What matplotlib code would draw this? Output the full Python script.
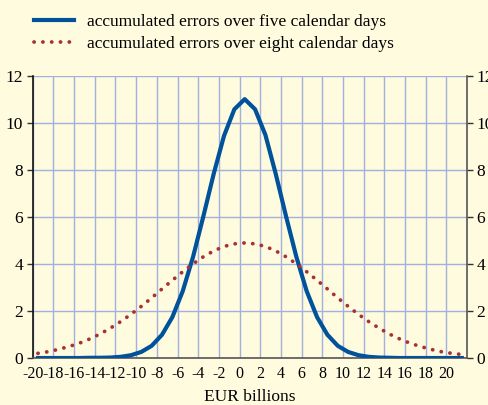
import numpy as np
import matplotlib
matplotlib.use('Agg')
import matplotlib.pyplot as plt

plt.rcParams['font.family'] = ['Liberation Serif', 'DejaVu Serif']

# x positions (EUR billions), midpoints of 1-billion bins
x = np.arange(-19.5, 22.0, 1.0)

five_days = [0.0, 0.0, 0.0, 0.0, 0.0, 0.01, 0.01, 0.02, 0.05, 0.12,
             0.26, 0.52, 0.99, 1.74, 2.84, 4.30, 6.03, 7.84, 9.46, 10.59,
             11.02, 10.59, 9.50, 7.84, 6.03, 4.30, 2.84, 1.74, 0.99, 0.52,
             0.26, 0.12, 0.05, 0.02, 0.01, 0.0, 0.0, 0.0, 0.0, 0.0,
             0.0, 0.0]

eight_days = [0.20, 0.27, 0.37, 0.49, 0.63, 0.81, 1.02, 1.27, 1.55, 1.86,
              2.20, 2.56, 2.94, 3.31, 3.67, 4.01, 4.31, 4.56, 4.75, 4.86,
              4.90, 4.86, 4.75, 4.56, 4.31, 4.01, 3.67, 3.31, 2.94, 2.56,
              2.20, 1.86, 1.55, 1.27, 1.02, 0.81, 0.63, 0.49, 0.37, 0.27,
              0.20, 0.15]

xticks = list(range(-20, 21, 2))
yticks = list(range(0, 13, 2))

bg = '#fefbdf'
fig = plt.figure(figsize=(4.89, 4.05), dpi=100, facecolor=bg)
ax = fig.add_axes([0.067, 0.116, 0.888, 0.696], facecolor=bg)

ax.plot(x, five_days, color='#00529b', linewidth=3.0,
        label='accumulated errors over five calendar days', zorder=3)
ax.plot(x, eight_days, color='#a83232', linewidth=2.7,
        linestyle=(0, (0.05, 2.3)), dash_capstyle='round',
        label='accumulated errors over eight calendar days', zorder=4)

ax.set_xlim(-20, 22)
ax.set_ylim(0, 12)
ax.set_xticks(xticks)
ax.set_xticklabels([str(t) for t in xticks], fontsize=11.5)
ax.set_yticks(yticks)
ax.tick_params(axis='y', labelsize=12.5, length=4, width=1, color='#333333',
               right=True, labelright=True, pad=3)
ax.tick_params(axis='x', length=0, pad=6)
ax.grid(True, color='#a2b0de', linewidth=1.0, zorder=0)
ax.set_axisbelow(True)

ax.spines['top'].set_visible(False)
ax.spines['left'].set_color('#111111')
ax.spines['right'].set_color('#555555')
ax.spines['bottom'].set_color('#555555')
for s in ['left', 'right', 'bottom']:
    ax.spines[s].set_linewidth(1.2)

ax.set_xlabel('EUR billions', fontsize=12.5, labelpad=5)

fig.legend(loc='upper left', bbox_to_anchor=(0.045, 0.995), frameon=False,
           fontsize=12.5, handlelength=2.3, handletextpad=0.75,
           labelspacing=0.3, borderaxespad=0.3)

fig.savefig('out.png', dpi=100, facecolor=bg)
